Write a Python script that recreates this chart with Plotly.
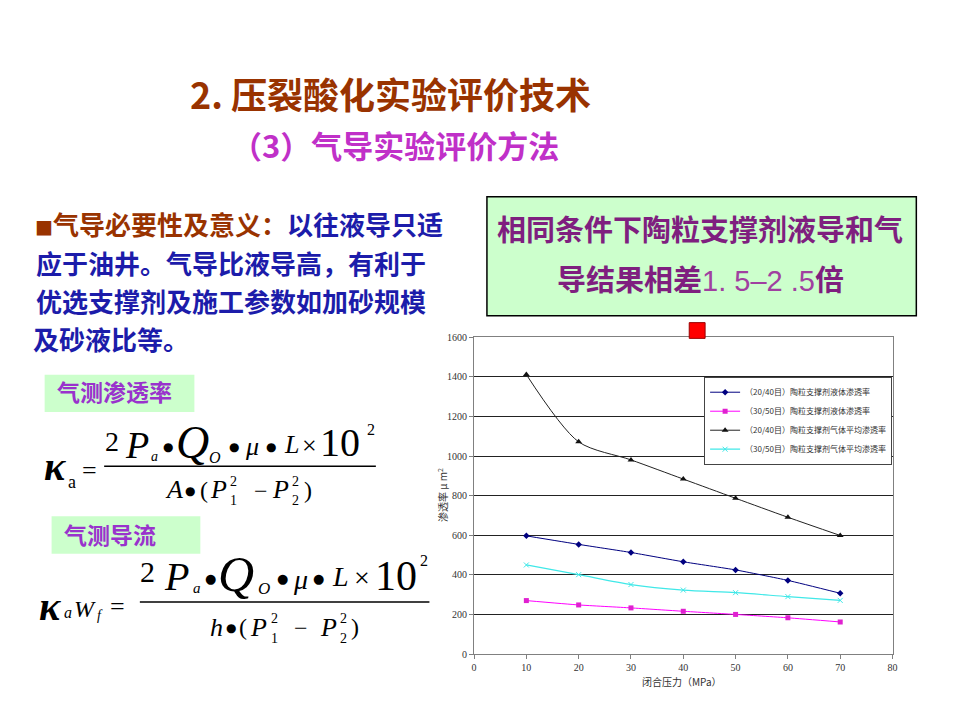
import plotly.graph_objects as go

# ---------------- data ----------------
pressure = [10, 20, 30, 40, 50, 60, 70]
liq_2040 = [597, 554, 513, 466, 425, 372, 307]
liq_3050 = [270, 248, 233, 216, 200, 183, 162]
gas_2040 = [1412, 1072, 981, 884, 787, 691, 599]
gas_3050 = [450, 401, 351, 323, 310, 290, 271]
series_names = [
    "（20/40目）陶粒支撑剂液体渗透率",
    "（30/50目）陶粒支撑剂液体渗透率",
    "（20/40目）陶粒支撑剂气体平均渗透率",
    "（30/50目）陶粒支撑剂气体平均渗透率",
]
x_ticks = [0, 10, 20, 30, 40, 50, 60, 70, 80]
y_ticks = [0, 200, 400, 600, 800, 1000, 1200, 1400, 1600]

W, H = 960, 720
def px(x):
    return x / W
def py(y):
    return 1 - y / H

fig = go.Figure()
fig.add_trace(go.Scatter(x=pressure, y=liq_2040, name=series_names[0], mode="lines+markers",
                         line=dict(color="#000080", width=1, shape="spline", smoothing=0.5),
                         marker=dict(symbol="diamond", size=5, color="#000080")))
fig.add_trace(go.Scatter(x=pressure, y=liq_3050, name=series_names[1], mode="lines+markers",
                         line=dict(color="#FF00FF", width=1, shape="spline", smoothing=0.5),
                         marker=dict(symbol="square", size=5, color="#E020D0")))
fig.add_trace(go.Scatter(x=pressure, y=gas_2040, name=series_names[2], mode="lines+markers",
                         line=dict(color="#222222", width=1, shape="spline", smoothing=0.8),
                         marker=dict(symbol="triangle-up", size=6, color="#111111")))
fig.add_trace(go.Scatter(x=pressure, y=gas_3050, name=series_names[3], mode="lines+markers",
                         line=dict(color="#40E8E8", width=1.2, shape="spline", smoothing=0.8),
                         marker=dict(symbol="x-thin", size=5, color="#40E8E8",
                                     line=dict(color="#40E8E8", width=1))))

tickfont = dict(family="Liberation Serif, Noto Sans CJK SC", size=10, color="#333333")
fig.update_layout(
    width=W, height=H,
    margin=dict(l=0, r=0, t=0, b=0),
    paper_bgcolor="white", plot_bgcolor="white",
    showlegend=True,
    legend=dict(x=px(707), y=py(377), xanchor="left", yanchor="top",
                bgcolor="white", bordercolor="#444444", borderwidth=1,
                font=dict(family="Noto Sans CJK SC", size=8, color="#333333"),
                itemwidth=30, tracegroupgap=0),
    xaxis=dict(domain=[px(475), px(897)], range=[0, 80], tickvals=x_ticks,
               showgrid=False, zeroline=False, showline=True, linecolor="#808080",
               linewidth=1, mirror=True, ticks="outside", ticklen=4, tickcolor="#808080",
               tickfont=tickfont),
    yaxis=dict(domain=[py(659), py(337)], range=[0, 1600], tickvals=y_ticks,
               showgrid=True, gridcolor="#222222", gridwidth=1.2,
               zeroline=False, showline=True, linecolor="#808080",
               linewidth=1, mirror=True, ticks="outside", ticklen=4, tickcolor="#808080",
               tickfont=tickfont),
)

annotations = []
def T(x, y, text, size, color="black", family="Noto Sans CJK SC", xanchor="center", angle=0, cjk=False):
    if cjk:
        y = y - 0.15 * size
    annotations.append(dict(x=px(x), y=py(y), xref="paper", yref="paper", text=text,
                            showarrow=False, xanchor=xanchor, yanchor="middle",
                            textangle=angle,
                            font=dict(size=size, color=color, family=family)))

shapes = []
def R(x0, y0, x1, y1, fill, line_color=None, lw=0):
    shapes.append(dict(type="rect", xref="paper", yref="paper",
                       x0=px(x0), x1=px(x1), y0=py(y1), y1=py(y0),
                       fillcolor=fill, layer="below",
                       line=dict(color=line_color or fill, width=lw)))
def L(x0, x1, y, lw=1.5):
    shapes.append(dict(type="line", xref="paper", yref="paper",
                       x0=px(x0), x1=px(x1), y0=py(y), y1=py(y),
                       line=dict(color="black", width=lw)))

# ---------------- titles ----------------
T(391, 94, "<b>2. 压裂酸化实验评价技术</b>", 36, "#993300", cjk=True)
T(395, 145, "<b>（3）气导实验评价方法</b>", 31, "#C030C8", cjk=True)

# ---------------- body text ----------------
BLUE = "#1C1CAA"
BROWN = "#993300"
T(238, 225, f"<b><span style='color:{BROWN}'><span style='font-size:18px'>■</span>气导必要性及意义：</span>以往液导只适</b>", 26, BLUE, cjk=True)
T(230, 265, "<b>应于油井。气导比液导高，有利于</b>", 26, BLUE, cjk=True)
T(230, 303, "<b>优选支撑剂及施工参数如加砂规模</b>", 26, BLUE, cjk=True)
T(109, 342, "<b>及砂液比等。</b>", 26, BLUE, cjk=True)

# ---------------- green labels ----------------
GREEN = "#CCFFCC"
PURPLE = "#9933CC"
R(42, 375, 193, 413, GREEN)
T(112, 395, "<b>气测渗透率</b>", 23, PURPLE, cjk=True)
R(49, 519, 199, 557, GREEN)
T(108, 540, "<b>气测导流</b>", 23, PURPLE, cjk=True)

# ---------------- formulas ----------------
SERIF = "Liberation Serif"
DOT = "DejaVu Sans"
# formula 1
T(52, 468, "<b><i>κ</i></b>", 40, family=SERIF)
T(70, 484, "a", 18, family=SERIF)
T(87, 472, "=", 26, family=SERIF)
L(102, 376, 468)
T(110, 443, "2", 28, family=SERIF)
T(135, 446, "<i>P</i>", 38, family=SERIF)
T(153, 458, "<i>a</i>", 14, family=SERIF)
T(166, 448, "●", 12, family=DOT)
T(191, 444, "<i>Q</i>", 46, family=SERIF)
T(214, 459, "<i>O</i>", 16, family=SERIF)
T(233, 448, "●", 12, family=DOT)
T(251, 448, "<i>μ</i>", 26, family=SERIF)
T(270, 448, "●", 12, family=DOT)
T(291, 446, "<i>L</i>", 26, family=SERIF)
T(309, 447, "×", 26, family=SERIF)
T(340, 444, "10", 40, family=SERIF)
T(371, 431, "2", 16, family=SERIF)
T(172, 492, "<i>A</i>", 26, family=SERIF)
T(189, 493, "●", 12, family=DOT)
T(203, 492, "(", 24, family=SERIF)
T(217, 492, "<i>P</i>", 26, family=SERIF)
T(232, 484, "2", 14, family=SERIF)
T(232, 503, "1", 14, family=SERIF)
T(260, 493, "−", 24, family=SERIF)
T(280, 492, "<i>P</i>", 26, family=SERIF)
T(295, 484, "2", 14, family=SERIF)
T(295, 503, "2", 14, family=SERIF)
T(308, 492, ")", 24, family=SERIF)

# formula 2
T(47, 611, "<b><i>κ</i></b>", 40, family=SERIF)
T(66, 617, "<i>a</i>", 16, family=SERIF)
T(83, 613, "<i>W</i>", 24, family=SERIF)
T(98, 620, "<i>f</i>", 14, family=SERIF)
T(115, 611, "=", 26, family=SERIF)
L(138, 430, 606)
T(146, 575, "2", 30, family=SERIF)
T(175, 580, "<i>P</i>", 40, family=SERIF)
T(196, 592, "<i>a</i>", 15, family=SERIF)
T(209, 582, "●", 13, family=DOT)
T(235, 578, "<i>Q</i>", 50, family=SERIF)
T(263, 592, "<i>O</i>", 17, family=SERIF)
T(282, 582, "●", 13, family=DOT)
T(300, 583, "<i>μ</i>", 28, family=SERIF)
T(318, 582, "●", 13, family=DOT)
T(340, 580, "<i>L</i>", 28, family=SERIF)
T(362, 581, "×", 28, family=SERIF)
T(396, 580, "10", 42, family=SERIF)
T(425, 564, "2", 16, family=SERIF)
T(215, 632, "<i>h</i>", 26, family=SERIF)
T(230, 633, "●", 12, family=DOT)
T(242, 632, "(", 24, family=SERIF)
T(258, 632, "<i>P</i>", 26, family=SERIF)
T(274, 623, "2", 14, family=SERIF)
T(274, 643, "1", 14, family=SERIF)
T(300, 633, "−", 24, family=SERIF)
T(328, 632, "<i>P</i>", 26, family=SERIF)
T(343, 623, "2", 14, family=SERIF)
T(343, 643, "2", 14, family=SERIF)
T(355, 632, ")", 24, family=SERIF)

# ---------------- right box ----------------
R(488, 194, 921, 315, GREEN, "black", 1.5)
BOXP = "#7F1F7F"
T(703, 230, "<b>相同条件下陶粒支撑剂液导和气</b>", 29, BOXP, cjk=True)
T(703, 281, "<b>导结果相差</b><span style='font-family:Liberation Sans;color:#A040A0'>1. 5–2 .5</span><b>倍</b>", 29, BOXP, cjk=True)

# red marker square
shapes.append(dict(type="rect", xref="paper", yref="paper", x0=px(692), x1=px(708),
                   y0=py(338), y1=py(322), fillcolor="#FF0000",
                   line=dict(color="#990000", width=1), layer="above"))

# ---------------- axis titles ----------------
T(443, 497, "渗透率 μ m<sup>2</sup>", 10, "#333333", family="Noto Sans CJK SC", angle=-90)
T(685, 687, "闭合压力（MPa）", 10, "#333333", family="Noto Sans CJK SC")

fig.update_layout(annotations=annotations, shapes=shapes)
fig.write_html(
    "out.html",
    config={"displayModeBar": False},
    post_script="document.documentElement.style.margin='0';document.body.style.margin='0';"
                "document.documentElement.style.overflow='hidden';document.body.style.overflow='hidden';",
)
